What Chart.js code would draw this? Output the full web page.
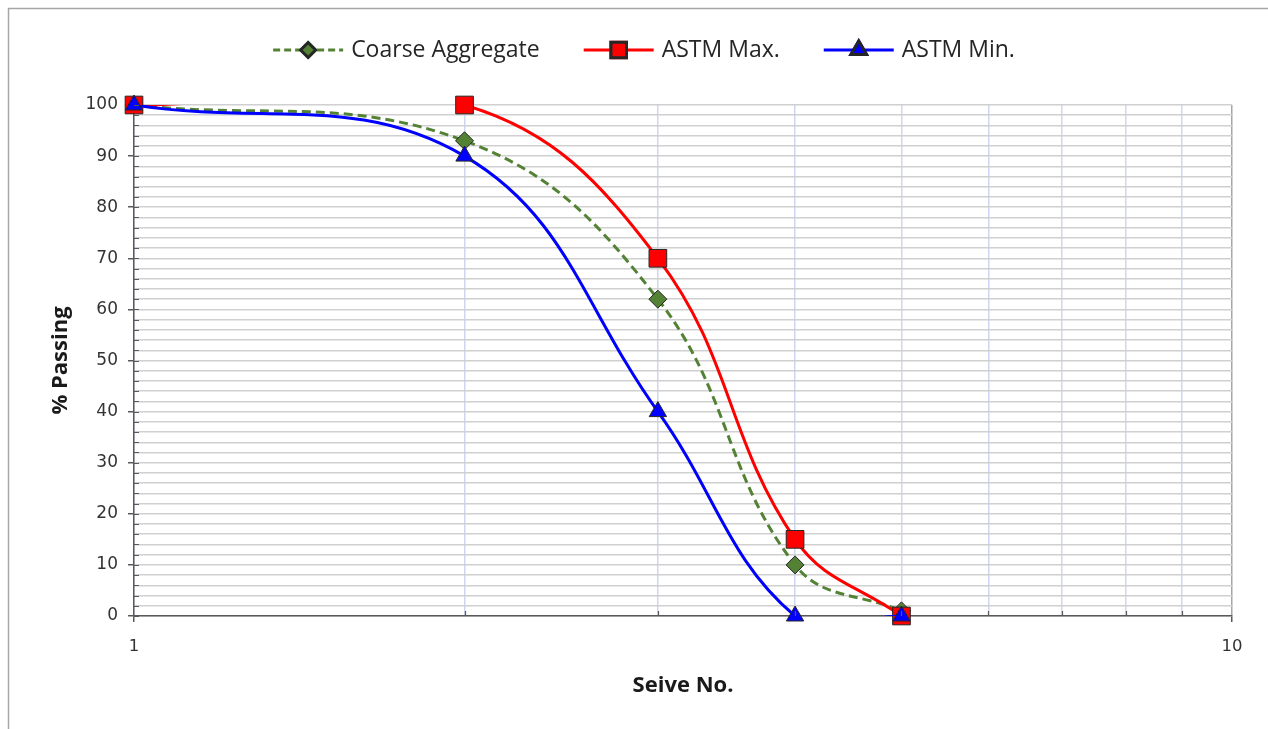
<!DOCTYPE html>
<html>
<head>
<meta charset="utf-8">
<script src="https://cdn.jsdelivr.net/npm/chart.js@4"></script>
<style>
  html, body { margin: 0; padding: 0; background: #fff; }
  #wrap { width: 1268px; height: 729px; position: relative; }
</style>
</head>
<body>
<div id="wrap"><canvas id="sieve-chart" width="1268" height="729"></canvas></div>
<script>
const sieveNo = [1, 2, 3, 4, 5];
const coarseAggregate = [100, 93, 62, 10, 1];
const astmMax = [100, 100, 70, 15, 0];
const astmMin = [100, 90, 40, 0, 0];

const legendNames = ["Coarse Aggregate", "ASTM Max.", "ASTM Min."];
const xTickLabels = [1, 10];

const toPoints = (values) => sieveNo.map((x, i) => ({ x, y: values[i] }));

const labelFont = "'Open Sans', Lato, sans-serif";
const tickFont = "'DejaVu Sans', sans-serif";

const series = [
  { name: legendNames[0], values: coarseAggregate, color: "#548235", fill: "#548235",
    dash: [9, 5], style: "rectRot", radius: 9 },
  { name: legendNames[1], values: astmMax, color: "#ff0000", fill: "#ff0000",
    dash: [], style: "rect", radius: 12.5 },
  { name: legendNames[2], values: astmMin, color: "#0000ff", fill: "#0000ff",
    dash: [], style: "triangle", radius: 10 },
];

// each series: a clipped smooth line, then its markers (not clipped, like Excel)
const datasets = [];
series.forEach((s, i) => {
  datasets.push({
    label: s.name,
    data: toPoints(s.values),
    borderColor: s.color,
    borderWidth: 3,
    borderDash: s.dash,
    tension: 0.4,
    capBezierPoints: false,
    pointRadius: 0,
    fill: false,
    order: 10 - i * 2,
  });
  datasets.push({
    label: s.name + " markers",
    data: toPoints(s.values),
    showLine: false,
    clip: false,
    pointStyle: s.style,
    pointRadius: s.radius,
    pointBackgroundColor: s.fill,
    pointBorderColor: "#262626",
    pointBorderWidth: 1,
    order: 9 - i * 2,
  });
});

const framePlugin = {
  id: "frame",
  beforeDraw(chart) {
    const c = chart.ctx;
    c.save();
    c.fillStyle = "#ffffff";
    c.fillRect(0, 0, chart.width, chart.height);
    c.strokeStyle = "#a6a6a6";
    c.lineWidth = 1.5;
    c.beginPath();
    c.moveTo(8.5, chart.height);
    c.lineTo(8.5, 8.5);
    c.lineTo(chart.width, 8.5);
    c.stroke();
    c.restore();
  },
};

// small inward minor ticks along both axes
const minorTicks = {
  id: "minorTicks",
  afterDraw(chart) {
    const c = chart.ctx;
    const x = chart.scales.x;
    const y = chart.scales.y;
    const area = chart.chartArea;
    c.save();
    c.strokeStyle = "#595959";
    c.lineWidth = 1.2;
    c.beginPath();
    y.ticks.forEach((t) => {
      const py = Math.round(y.getPixelForValue(t.value)) + 0.5;
      c.moveTo(area.left, py);
      c.lineTo(area.left + 5, py);
    });
    x.ticks.forEach((t) => {
      if (xTickLabels.includes(t.value)) return;
      const px = Math.round(x.getPixelForValue(t.value)) + 0.5;
      c.moveTo(px, area.bottom);
      c.lineTo(px, area.bottom - 5);
    });
    c.stroke();
    c.restore();
  },
};

const legendPlugin = {
  id: "lineLegend",
  afterDraw(chart) {
    const c = chart.ctx;
    const cy = 50;
    const sampleWidth = 70;
    const gap = 44;
    c.save();
    c.font = "23px " + labelFont;
    c.textBaseline = "middle";
    const widths = series.map((s) => sampleWidth + 8 + c.measureText(s.name).width);
    const total = widths.reduce((a, b) => a + b, 0) + gap * (series.length - 1);
    let x = 644 - total / 2;
    series.forEach((s, i) => {
      c.strokeStyle = s.color;
      c.lineWidth = 3;
      c.setLineDash(s.dash.length ? [7, 4] : []);
      c.beginPath();
      c.moveTo(x, cy);
      c.lineTo(x + sampleWidth, cy);
      c.stroke();
      c.setLineDash([]);
      Chart.helpers.drawPoint(c, {
        pointStyle: s.style,
        radius: s.style === "rect" ? 11 : s.style === "triangle" ? 9 : 7.5,
        borderWidth: 1,
      }, x + sampleWidth / 2, cy);
      c.fillStyle = s.fill;
      c.strokeStyle = "#262626";
      c.fill();
      c.stroke();
      c.fillStyle = "#262626";
      c.fillText(s.name, x + sampleWidth + 8, cy);
      x += widths[i] + gap;
    });
    c.restore();
  },
};

new Chart(document.getElementById("sieve-chart"), {
  type: "line",
  data: { datasets },
  plugins: [framePlugin, minorTicks, legendPlugin],
  options: {
    responsive: false,
    animation: false,
    devicePixelRatio: 1,
    layout: { padding: { left: 0, right: 36, top: 105, bottom: 0 } },
    plugins: {
      legend: { display: false },
      tooltip: { enabled: false },
    },
    scales: {
      x: {
        type: "logarithmic",
        min: 1,
        max: 10,
        afterBuildTicks: (scale) => {
          scale.ticks = scale.ticks.filter((t) => Number.isInteger(t.value));
        },
        afterFit: (scale) => { scale.height = 113; },
        border: { display: true, color: "#595959", width: 1.5 },
        grid: {
          color: (ctx) => (ctx.tick && ctx.tick.value === 10 ? "#a6a6a6" : "#cfd6f1"),
          lineWidth: 1.5,
          tickLength: 6,
          tickColor: (ctx) => (ctx.tick && xTickLabels.includes(ctx.tick.value) ? "#595959" : "rgba(0,0,0,0)"),
          tickWidth: 1.5,
        },
        ticks: {
          autoSkip: false,
          maxRotation: 0,
          padding: 15,
          color: "#333333",
          font: { family: tickFont, size: 16.5 },
          callback: (value) => (xTickLabels.includes(value) ? String(value) : ""),
        },
        title: {
          display: true,
          text: "Seive No.",
          color: "#1a1a1a",
          font: { family: labelFont, size: 22, weight: "bold" },
          padding: { top: 0, bottom: 30 },
        },
      },
      y: {
        min: 0,
        max: 100,
        afterFit: (scale) => { scale.width = 134; },
        border: { display: true, color: "#595959", width: 1.5 },
        grid: {
          color: "#d0d0d0",
          lineWidth: 1.5,
          tickLength: 6,
          tickColor: (ctx) => (ctx.tick && ctx.tick.value % 10 === 0 ? "#595959" : "rgba(0,0,0,0)"),
          tickWidth: 1.5,
        },
        ticks: {
          stepSize: 2,
          autoSkip: false,
          padding: 10,
          color: "#333333",
          font: { family: tickFont, size: 17 },
          callback: (value) => (value % 10 === 0 ? String(value) : ""),
        },
        title: {
          display: true,
          text: "% Passing",
          color: "#1a1a1a",
          font: { family: labelFont, size: 22, weight: "bold" },
          padding: { top: 48, bottom: 0 },
        },
      },
    },
  },
});
</script>
</body>
</html>
